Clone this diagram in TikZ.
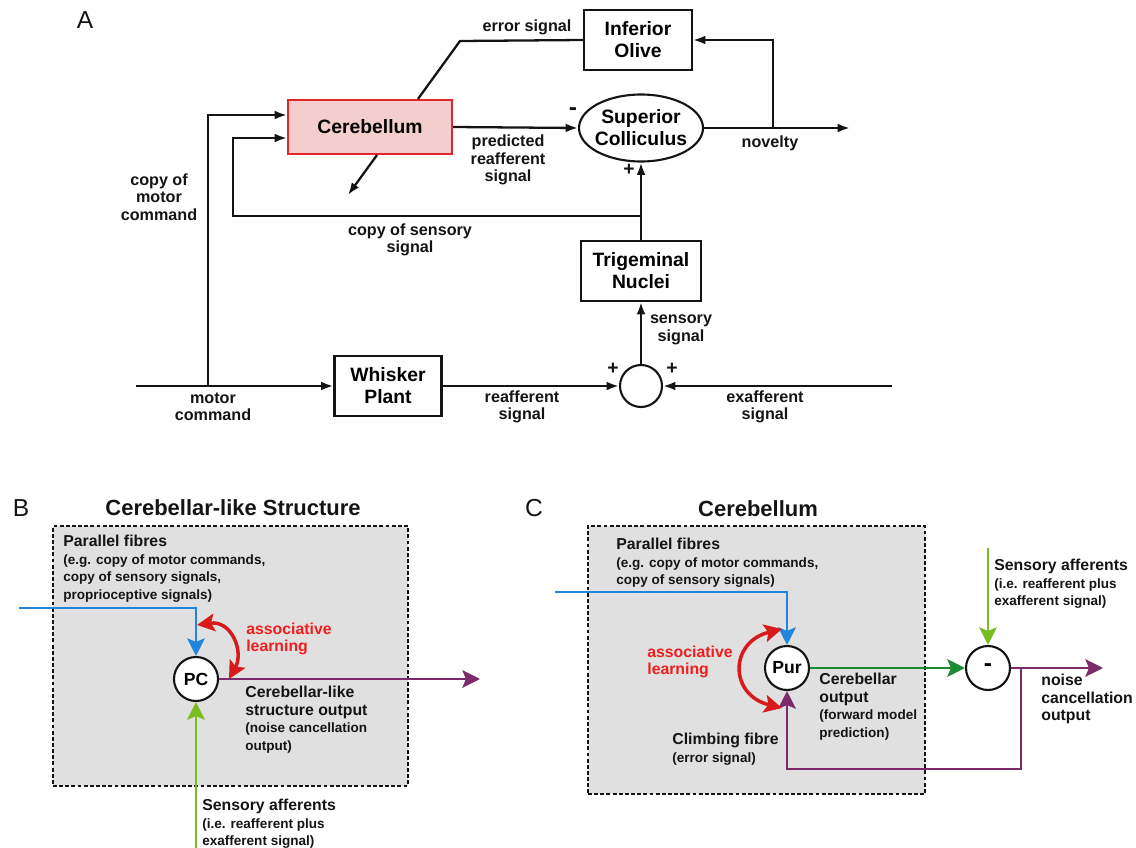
\documentclass[tikz,border=0pt]{standalone}
\usepackage{fontspec}
\setmainfont{Liberation Sans}
\setsansfont{Liberation Sans}
\usepackage{xcolor}
\usetikzlibrary{
    shapes.geometric,
    arrows.meta,
    positioning,
    calc
}
\definecolor{ink}{HTML}{141414}
\definecolor{cerebfill}{HTML}{F4CDCD}
\definecolor{cerebline}{HTML}{E3262A}
\definecolor{parallel}{HTML}{1F86DC}
\definecolor{afferent}{HTML}{78BE20}
\definecolor{cbout}{HTML}{1A8B32}
\definecolor{noise}{HTML}{7D2A6A}
\definecolor{learning}{HTML}{D91A1A}
\definecolor{learntext}{HTML}{F01E1E}
\definecolor{boxgray}{HTML}{E0E0E0}
\tikzset{
    % Brain region box
    region/.style={
        rectangle,
        draw=ink,
        fill=white,
        line width=1.2pt,
        align=center,
        inner sep=2pt,
        font=\fontsize{11}{12.5}\selectfont\bfseries
    },
    % Sum and compare nodes
    junction/.style={
        circle,
        draw=ink,
        fill=white,
        line width=1.2pt,
        minimum size=#1,
        inner sep=0pt,
        font=\fontsize{10}{12}\selectfont\bfseries
    },
    junction/.default=0.86cm,
    % Signal arrows (panel A)
    signal/.style={
        -{Latex[length=7pt, width=5pt]},
        line width=1.3pt,
        draw=ink
    },
    wire/.style={
        line width=1.3pt,
        draw=ink
    },
    % Fibre arrows (panels B and C)
    fibre/.style={
        -{Stealth[length=10pt, width=10pt, inset=2pt]},
        line width=1.6pt,
        draw=#1
    },
    learn arc/.style={
        arrows={Stealth[length=10pt, width=10pt, inset=2pt]-Stealth[length=10pt, width=10pt, inset=2pt]},
        line width=2pt,
        draw=learning
    },
    % Dashed container
    cluster/.style={
        rectangle,
        draw=ink,
        fill=boxgray,
        dash pattern=on 2.2pt off 1.3pt,
        line width=1pt
    },
    % Label styles
    label text/.style={
        font=\fontsize{9.2}{10}\selectfont\bfseries,
        text=ink,
        align=center,
        inner sep=0pt
    },
    sign text/.style={
        font=\fontsize{11}{11}\selectfont\bfseries,
        text=ink,
        inner sep=0pt
    },
    note text/.style={
        font=\fontsize{9}{10}\selectfont\bfseries,
        text=ink,
        align=left,
        inner sep=0pt
    },
    panel letter/.style={
        font=\fontsize{14}{14}\selectfont,
        text=ink
    },
    panel title/.style={
        font=\fontsize{12.5}{14}\selectfont\bfseries,
        text=ink
    }
}
\newcommand{\smallnote}{\fontsize{7.7}{9}\selectfont}

\begin{document}
\begin{tikzpicture}[x=0.02cm, y=-0.02cm]
    \useasboundingbox (0,0) rectangle (1136,848);

    % Panel A: whisker loop
    \node[panel letter] (letA) at (85,20) {A};

    \node[region, fill=cerebfill, draw=cerebline, minimum width=3.28cm, minimum height=1.08cm] (cereb) at (370,127) {Cerebellum};
    \node[region, minimum width=2.16cm, minimum height=1.2cm] (olive) at (638,40) {Inferior\\Olive};
    \node[region, ellipse, minimum width=2.48cm, minimum height=1.34cm] (sc) at (641,128) {};
    \node[region, fill=none, draw=none] (scText) at (sc) {Superior\\Colliculus};
    \node[region, minimum width=2.4cm, minimum height=1.2cm] (trig) at (641,271) {Trigeminal\\Nuclei};
    \node[region, minimum width=2.14cm, minimum height=1.2cm] (whisker) at (388,386) {Whisker\\Plant};
    \node[junction=0.84cm] (sum) at (641,386) {};

    \coordinate (motorIn) at (136,386);
    \coordinate (motorCopy) at (208,386);
    \coordinate (exafIn) at (892,386);
    \coordinate (novOut) at (850,128);
    \coordinate (novTap) at (773,128);
    \coordinate (sensTap) at (641,216);
    \coordinate (sensBend) at (233,216);
    \coordinate (errBend) at (460,41);
    \coordinate (learnTip) at (348,195);

    \draw[signal] (motorIn) -- (whisker.west);
    \draw[signal] (motorCopy) |- ([yshift=0.24cm]cereb.west);
    \draw[signal] (sensTap) -- (sensBend) |- ([yshift=-0.22cm]cereb.west);
    \draw[signal] (whisker.east) -- (sum.west);
    \draw[signal] (exafIn) -- (sum.east);
    \draw[signal] (sum.north) -- (trig.south);
    \draw[signal] (trig.north) -- (sc.south);
    \draw[signal] (cereb.east) -- (sc.west);
    \draw[signal] (sc.east) -- (novOut);
    \draw[signal] (novTap) |- (olive.east);
    \draw[wire] (olive.west) -- (errBend) -- ([xshift=0.96cm]cereb.north);
    \draw[signal] ([xshift=0.14cm]cereb.south) -- (learnTip);

    \node[label text] (errLbl) at (527,27) {error signal};
    \node[label text] (predLbl) at (508,160) {predicted\\reafferent\\signal};
    \node[label text] (novLbl) at (770,143) {novelty};
    \node[sign text, font=\fontsize{14}{14}\selectfont\bfseries] (minusA) at (573,112) {-};
    \node[sign text] (plusSC) at (629,170) {+};
    \node[label text] (cmcLbl) at (159,197) {copy of\\motor\\command};
    \node[label text] (cssLbl) at (410,240) {copy of sensory\\signal};
    \node[label text] (ssLbl) at (681,330) {sensory\\signal};
    \node[sign text] (plusL) at (613,369) {+};
    \node[sign text] (plusR) at (672,369) {+};
    \node[label text] (exLbl) at (765,407) {exafferent\\signal};
    \node[label text] (reLbl) at (522,407) {reafferent\\signal};
    \node[label text] (mcLbl) at (213,407) {motor\\command};

    % Panel B: cerebellar-like structure
    \node[panel letter] (letB) at (21,508) {B};
    \node[panel title] (titleB) at (233,508) {Cerebellar-like Structure};
    \node[cluster, minimum width=7.1cm, minimum height=5.2cm] (bodyB) at (230.5,656) {};
    \node[note text, anchor=north west] (pfLblB) at (63,535) {Parallel fibres\\
        \smallnote (e.g. copy of motor commands,\\
        \smallnote copy of sensory signals,\\
        \smallnote proprioceptive signals)};
    \node[junction=0.88cm] (pc) at (196,679) {PC};

    \coordinate (pfInB) at (19,608);
    \coordinate (saInB) at (196,848);
    \coordinate (outB) at (480,679);
    \coordinate (learnB1) at (197,625);
    \coordinate (learnB2) at (229,679);

    \draw[fibre=parallel] (pfInB) -| (pc.north);
    \draw[fibre=afferent] (saInB) -- (pc.south);
    \draw[fibre=noise] (pc.east) -- (outB);
    \draw[learn arc] (learnB1) .. controls (232,620) and (244,652) .. (learnB2);

    \node[note text, text=learntext, anchor=west] (alLblB) at (246,639) {associative\\learning};
    \node[note text, anchor=north west] (outLblB) at (245,686) {Cerebellar-like\\structure output\\
        \smallnote (noise cancellation\\ \smallnote output)};
    \node[note text, anchor=north west] (saLblB) at (202,799) {Sensory afferents\\
        \smallnote (i.e. reafferent plus\\ \smallnote exafferent signal)};

    % Panel C: cerebellum
    \node[panel letter] (letC) at (534,508) {C};
    \node[panel title] (titleC) at (758,509) {Cerebellum};
    \node[cluster, minimum width=6.74cm, minimum height=5.36cm] (bodyC) at (756.5,660) {};
    \node[note text, anchor=north west] (pfLblC) at (616,538) {Parallel fibres\\
        \smallnote (e.g. copy of motor commands,\\ \smallnote copy of sensory signals)};
    \node[junction=0.88cm] (pur) at (787,668) {Pur};
    \node[junction=0.88cm, font=\fontsize{14}{14}\selectfont\bfseries] (cmp) at (988,668) {-};

    \coordinate (pfInC) at (555,592);
    \coordinate (saInC) at (988,548);
    \coordinate (outC) at (1103,668);
    \coordinate (cfSplit) at (1021,668);
    \coordinate (cfBend) at (1021,769);
    \coordinate (learnC1) at (782,629);
    \coordinate (learnC2) at (782,708);

    \draw[fibre=parallel] (pfInC) -| (pur.north);
    \draw[fibre=afferent] (saInC) -- (cmp.north);
    \draw[fibre=cbout] (pur.east) -- (cmp.west);
    \draw[fibre=noise] (cmp.east) -- (outC);
    \draw[fibre=noise] (cfSplit) -- (cfBend) -| (pur.south);
    \draw[learn arc] (learnC1) .. controls (729,642) and (729,695) .. (learnC2);

    \node[note text, text=learntext, anchor=west] (alLblC) at (647,662) {associative\\learning};
    \node[note text, anchor=north west] (outLblC) at (819,673) {Cerebellar\\output\\
        \smallnote (forward model\\ \smallnote prediction)};
    \node[note text, anchor=north west] (saLblC) at (994,559) {Sensory afferents\\
        \smallnote (i.e. reafferent plus\\ \smallnote exafferent signal)};
    \node[note text, anchor=north west] (ncLbl) at (1041,674) {noise\\cancellation\\output};
    \node[note text, anchor=north west] (cfLbl) at (672,733) {Climbing fibre\\ \smallnote (error signal)};
\end{tikzpicture}
\end{document}
